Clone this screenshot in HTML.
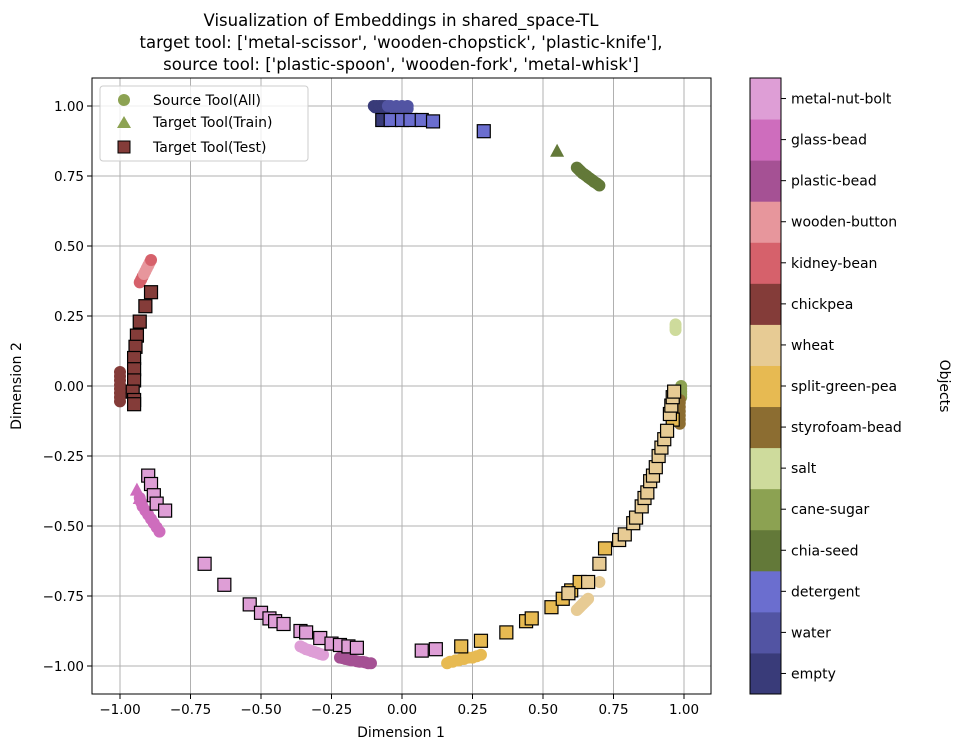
<!DOCTYPE html>
<html><head><meta charset="utf-8">
<style>
body{margin:0;background:#fff;font-family:"Liberation Sans","DejaVu Sans",sans-serif;}
svg text{font-family:"DejaVu Sans","Liberation Sans",sans-serif;fill:#000;}
</style></head>
<body>
<svg id="chart" width="960" height="749" xmlns="http://www.w3.org/2000/svg">
<g font-size="16.5" text-anchor="middle">
<text x="401" y="26">Visualization of Embeddings in shared_space-TL</text>
<text x="401" y="48">target tool: ['metal-scissor', 'wooden-chopstick', 'plastic-knife'],</text>
<text x="401" y="70">source tool: ['plastic-spoon', 'wooden-fork', 'metal-whisk']</text>
</g>
<g id="grid"></g>
<g id="marks"></g>
<rect x="92" y="78" width="619" height="616" fill="none" stroke="#000" stroke-width="1"/>
<g id="ticks" font-size="13.5"></g>
<text x="401" y="737" font-size="14" text-anchor="middle">Dimension 1</text>
<text x="0" y="0" font-size="14" text-anchor="middle" transform="translate(21,386) rotate(-90)">Dimension 2</text>
<g>
<rect x="100" y="86" width="208" height="75" rx="3" fill="#fff" fill-opacity="0.8" stroke="#ccc"/>
<circle cx="124" cy="100" r="6" fill="#8ca252"/>
<text x="153" y="105" font-size="14">Source Tool(All)</text>
<polygon points="124,116 131,128 117,128" fill="#8ca252"/>
<text x="153" y="127" font-size="14">Target Tool(Train)</text>
<rect x="118" y="141" width="12" height="12" fill="#843c39" stroke="#000"/>
<text x="153" y="152" font-size="14">Target Tool(Test)</text>
</g>
<g id="colorbar"></g>
<text font-size="14" text-anchor="middle" transform="translate(940,386) rotate(90)">Objects</text>
</svg>
<script>
const classNames=['empty','water','detergent','chia-seed','cane-sugar','salt','styrofoam-bead','split-green-pea','wheat','chickpea','kidney-bean','wooden-button','plastic-bead','glass-bead','metal-nut-bolt'];
const classColors=['#393b79','#5254a3','#6b6ecf','#637939','#8ca252','#cedb9c','#8c6d31','#e7ba52','#e7cb94','#843c39','#d6616b','#e7969c','#a55194','#ce6dbd','#de9ed6'];
const xTicks=[-1,-0.75,-0.5,-0.25,0,0.25,0.5,0.75,1];
const yTicks=[-1,-0.75,-0.5,-0.25,0,0.25,0.5,0.75,1];
// [x, y, classIndex]
const sourcePoints=[
[-0.10,1.0,0],[-0.095,0.995,0],[-0.09,1.0,0],[-0.085,0.995,0],[-0.08,1.0,0],[-0.075,0.995,0],[-0.07,1.0,0],[-0.065,0.995,0],[-0.06,1.0,0],[-0.05,0.995,0],
[-0.05,1.0,1],[-0.04,1.0,1],[-0.03,0.995,1],[-0.02,1.0,1],[-0.01,0.995,1],[0.0,1.0,1],[0.01,0.995,1],[0.02,1.0,1],[0.02,0.99,1],
[0.62,0.78,3],[0.625,0.775,3],[0.63,0.77,3],[0.635,0.765,3],[0.64,0.76,3],[0.645,0.757,3],[0.65,0.753,3],[0.655,0.75,3],[0.66,0.745,3],[0.665,0.742,3],[0.67,0.738,3],[0.675,0.735,3],[0.68,0.73,3],[0.685,0.727,3],[0.69,0.724,3],[0.695,0.72,3],[0.70,0.716,3],
[0.97,0.22,5],[0.97,0.21,5],[0.97,0.20,5],
[0.99,0.0,4],[0.99,-0.01,4],[0.99,-0.02,4],[0.99,-0.03,4],[0.99,-0.04,4],[0.985,-0.05,6],[0.985,-0.06,6],[0.985,-0.075,6],[0.985,-0.09,6],[0.985,-0.105,6],[0.985,-0.12,6],[0.985,-0.135,6],
[0.70,-0.70,8],[0.62,-0.80,8],[0.625,-0.795,8],[0.63,-0.79,8],[0.635,-0.785,8],[0.64,-0.78,8],[0.645,-0.775,8],[0.65,-0.77,8],[0.655,-0.765,8],[0.66,-0.76,8],
[0.16,-0.99,7],[0.17,-0.985,7],[0.18,-0.985,7],[0.19,-0.98,7],[0.20,-0.98,7],[0.21,-0.975,7],[0.22,-0.975,7],[0.235,-0.97,7],[0.25,-0.97,7],[0.265,-0.965,7],[0.28,-0.96,7],
[-0.22,-0.97,12],[-0.21,-0.972,12],[-0.20,-0.975,12],[-0.19,-0.977,12],[-0.18,-0.98,12],[-0.17,-0.98,12],[-0.16,-0.983,12],[-0.15,-0.985,12],[-0.14,-0.985,12],[-0.13,-0.987,12],[-0.12,-0.99,12],[-0.11,-0.99,12],
[-0.36,-0.93,14],[-0.35,-0.935,14],[-0.34,-0.94,14],[-0.33,-0.943,14],[-0.32,-0.947,14],[-0.31,-0.95,14],[-0.30,-0.953,14],[-0.29,-0.957,14],[-0.28,-0.96,14],
[-0.93,-0.40,13],[-0.925,-0.415,13],[-0.92,-0.43,13],[-0.91,-0.445,13],[-0.90,-0.46,13],[-0.89,-0.475,13],[-0.88,-0.49,13],[-0.87,-0.505,13],[-0.86,-0.52,13],
[-1.0,0.05,9],[-1.0,0.035,9],[-1.0,0.02,9],[-1.0,0.005,9],[-1.0,-0.01,9],[-1.0,-0.025,9],[-1.0,-0.04,9],[-1.0,-0.055,9],
[-0.93,0.37,10],[-0.925,0.38,10],[-0.92,0.39,10],[-0.915,0.40,11],[-0.91,0.41,11],[-0.905,0.42,11],[-0.90,0.43,11],[-0.895,0.44,11],[-0.89,0.45,10]
];
const trainPoints=[[0.55,0.84,3],[-0.94,-0.37,13],[-0.93,-0.40,13]];
const testPoints=[
[-0.07,0.95,0],[-0.04,0.95,2],[0.0,0.95,2],[0.03,0.95,2],[0.07,0.95,2],[0.11,0.945,2],[0.29,0.91,2],
[-0.89,0.335,9],[-0.91,0.285,9],[-0.93,0.23,9],[-0.94,0.18,9],[-0.945,0.14,9],[-0.95,0.10,9],[-0.95,0.06,9],[-0.95,0.02,9],[-0.955,-0.02,9],[-0.95,-0.05,9],[-0.95,-0.065,9],
[-0.9,-0.32,14],[-0.89,-0.35,14],[-0.88,-0.39,14],[-0.87,-0.42,14],[-0.84,-0.445,14],[-0.70,-0.635,14],[-0.63,-0.71,14],[-0.54,-0.78,14],[-0.5,-0.81,14],[-0.47,-0.83,14],[-0.45,-0.84,14],[-0.42,-0.85,14],[-0.36,-0.875,14],[-0.34,-0.88,14],[-0.29,-0.90,14],[-0.25,-0.92,14],[-0.22,-0.925,14],[-0.19,-0.93,14],[-0.16,-0.935,14],[0.07,-0.945,14],[0.12,-0.94,14],
[0.21,-0.93,7],[0.28,-0.91,7],[0.37,-0.88,7],[0.44,-0.84,7],[0.46,-0.83,7],[0.53,-0.79,7],[0.57,-0.76,7],[0.60,-0.73,7],[0.63,-0.70,7],[0.72,-0.58,7],[0.96,-0.12,7],
[0.59,-0.74,8],[0.66,-0.70,8],[0.70,-0.635,8],[0.77,-0.55,8],[0.79,-0.53,8],[0.82,-0.49,8],[0.83,-0.47,8],[0.85,-0.43,8],[0.86,-0.40,8],[0.87,-0.38,8],[0.88,-0.34,8],[0.89,-0.32,8],[0.90,-0.29,8],[0.91,-0.25,8],[0.92,-0.22,8],[0.93,-0.19,8],[0.94,-0.16,8],[0.95,-0.10,8],[0.955,-0.07,8],[0.96,-0.04,8],[0.965,-0.02,8]
];
const NS='http://www.w3.org/2000/svg';
const sx=v=>402+v*282, sy=v=>386-v*280;
function mk(tag,attrs,parent){const e=document.createElementNS(NS,tag);for(const k in attrs)e.setAttribute(k,attrs[k]);parent.appendChild(e);return e;}
const grid=document.getElementById('grid'),ticks=document.getElementById('ticks'),marks=document.getElementById('marks'),cb=document.getElementById('colorbar');
const fmt=v=>(v<0?'\u2212':'')+Math.abs(v).toFixed(2);
xTicks.forEach(t=>{const x=sx(t);
 const l=mk('line',{x1:x,x2:x,y1:78,y2:694,stroke:'#b0b0b0','stroke-width':1},grid);
 
 mk('line',{x1:x,x2:x,y1:694,y2:699,stroke:'#000'},ticks);
 const tx=mk('text',{x:x,y:714,'text-anchor':'middle'},ticks);tx.textContent=fmt(t);
 });
yTicks.forEach(t=>{const y=sy(t);
 const l=mk('line',{x1:92,x2:711,y1:y,y2:y,stroke:'#b0b0b0','stroke-width':1},grid);
 
 mk('line',{x1:87,x2:92,y1:y,y2:y,stroke:'#000'},ticks);
 const tx=mk('text',{x:84,y:y+5,'text-anchor':'end'},ticks);tx.textContent=fmt(t);
 });
sourcePoints.forEach(p=>{const c=mk('circle',{cx:sx(p[0]),cy:sy(p[1]),r:6,fill:classColors[p[2]]},marks);
 });
trainPoints.forEach(p=>{const x=sx(p[0]),y=sy(p[1]);
 const t=mk('polygon',{points:`${x},${y-7} ${x+7},${y+6} ${x-7},${y+6}`,fill:classColors[p[2]]},marks);
 });
testPoints.forEach(p=>{const r=mk('rect',{x:sx(p[0])-6.5,y:sy(p[1])-6.5,width:13,height:13,fill:classColors[p[2]],stroke:'#000','stroke-width':1.2},marks);
 });
const h=616/classNames.length;
classNames.forEach((n,i)=>{const y=694-(i+1)*h;
 const r=mk('rect',{x:750,y:y,width:31,height:h+0.5,fill:classColors[i]},cb);
 
 mk('line',{x1:781,x2:786,y1:y+h/2,y2:y+h/2,stroke:'#000'},cb);
 const t=mk('text',{x:791,y:y+h/2+5,'font-size':14},cb);t.textContent=n;
 });
mk('rect',{x:750,y:78,width:31,height:616,fill:'none',stroke:'#000'},cb);
</script>
</body></html>
